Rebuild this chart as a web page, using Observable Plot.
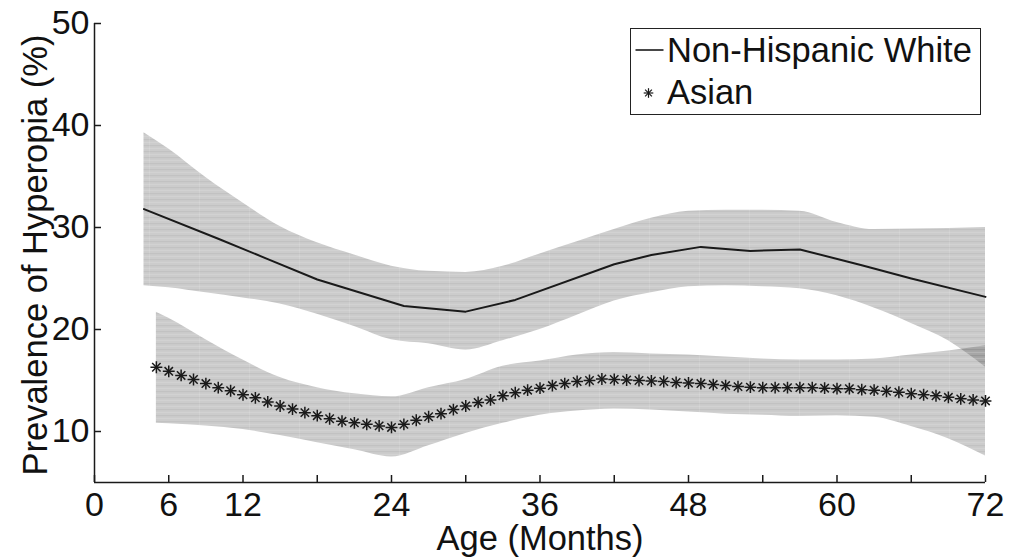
<!DOCTYPE html>
<html>
<head>
<meta charset="utf-8">
<script src="https://cdn.jsdelivr.net/npm/d3@7"></script>
<script src="https://cdn.jsdelivr.net/npm/@observablehq/plot@0.6"></script>
<style>
  body { margin: 0; background: #fff; font-family: "Liberation Sans", Arial, sans-serif; }
  #wrap { position: relative; width: 1010px; height: 560px; }
  #legend { position: absolute; left: 630px; top: 28px; width: 349px; height: 85px;
            border: 1.5px solid #222; background: #fff; }
  #legend .t { position: absolute; left: 36px; font-size: 34.5px; line-height: normal; color: #111; white-space: nowrap; }
  #legend svg { position: absolute; left: 0; top: 0; }
</style>
</head>
<body>
<div id="wrap"></div>
<script>
// ---- data ----
const seriesNames = ["Non-Hispanic White", "Asian"];
const xTickMonths = [0, 6, 12, 18, 24, 30, 36, 42, 48, 54, 60, 66, 72];
const xLabelMonths = [0, 6, 12, 24, 36, 48, 60, 72];
const yTicks = [10, 20, 30, 40, 50];

// Non-Hispanic White fitted prevalence (line)
const nhwMonths = [4, 10, 14, 18, 25, 30, 34, 42, 45, 49, 53, 57, 62, 66, 72];
const nhwPrev   = [31.8, 28.9, 26.9, 24.9, 22.3, 21.75, 22.9, 26.4, 27.3, 28.1, 27.7, 27.85, 26.3, 25.0, 23.2];

// Non-Hispanic White confidence band
const nhwBandMonths = [4, 6, 9, 12, 15, 18, 21, 24, 27, 30, 33, 36, 39, 42, 45, 48, 51, 54, 57, 60, 63, 66, 69, 72];
const nhwUpper = [39.3, 37.7, 34.9, 32.4, 30.1, 28.5, 27.3, 26.2, 25.7, 25.6, 26.2, 27.4, 28.6, 29.8, 30.9, 31.6, 31.7, 31.7, 31.6, 30.5, 29.8, 29.85, 29.9, 30.0];
const nhwLower = [24.3, 24.1, 23.6, 23.1, 22.5, 21.5, 20.3, 19.0, 18.6, 18.0, 18.9, 20.0, 21.4, 22.8, 23.6, 24.2, 24.3, 24.2, 24.0, 23.3, 22.1, 20.6, 18.9, 16.3];

// Asian fitted prevalence (asterisks, monthly)
const asianMonths = [5, 6, 7, 8, 9, 10, 11, 12, 13, 14, 15, 16, 17, 18, 19, 20, 21, 22, 23, 24,
  25, 26, 27, 28, 29, 30, 31, 32, 33, 34, 35, 36, 37, 38, 39, 40, 41, 42, 43, 44, 45, 46, 47, 48,
  49, 50, 51, 52, 53, 54, 55, 56, 57, 58, 59, 60, 61, 62, 63, 64, 65, 66, 67, 68, 69, 70, 71, 72];
const asianPrev = [16.3, 15.9, 15.5, 15.1, 14.7, 14.3, 14.0, 13.6, 13.3, 12.9, 12.5, 12.2, 11.85, 11.55, 11.25, 11.0, 10.85, 10.7, 10.55, 10.4,
  10.7, 11.1, 11.45, 11.75, 12.15, 12.5, 12.85, 13.1, 13.5, 13.8, 14.05, 14.25, 14.5, 14.7, 14.9, 15.0, 15.15, 15.1, 15.05, 15.0, 14.95, 14.9, 14.8, 14.75,
  14.7, 14.6, 14.5, 14.4, 14.35, 14.3, 14.3, 14.3, 14.3, 14.3, 14.25, 14.2, 14.2, 14.1, 14.05, 13.95, 13.85, 13.7, 13.6, 13.5, 13.35, 13.2, 13.1, 13.0];

// Asian confidence band
const asianBandMonths = [5, 6, 9, 12, 15, 18, 21, 24, 27, 30, 33, 36, 39, 42, 45, 48, 51, 54, 57, 60, 63, 66, 69, 72];
const asianUpper = [21.7, 21.1, 19.0, 17.0, 15.3, 14.3, 13.7, 13.4, 14.3, 15.1, 16.4, 16.9, 17.5, 17.75, 17.6, 17.5, 17.3, 17.1, 17.0, 17.0, 17.1, 17.5, 17.9, 18.4];
const asianLower = [10.8, 10.75, 10.55, 10.2, 9.6, 8.9, 8.2, 7.5, 8.6, 9.8, 10.8, 11.6, 12.0, 12.2, 12.1, 11.9, 11.7, 11.6, 11.5, 11.55, 11.4, 10.5, 9.3, 7.6];

// ---- tables ----
const nhwLine = nhwMonths.map((m, i) => ({month: m, prev: nhwPrev[i]}));
const nhwBand = nhwBandMonths.map((m, i) => ({month: m, lo: nhwLower[i], hi: nhwUpper[i]}));
const asianPts = asianMonths.map((m, i) => ({month: m, prev: asianPrev[i]}));
const asianBand = asianBandMonths.map((m, i) => ({month: m, lo: asianLower[i], hi: asianUpper[i]}));

const W = 1010, H = 560;
const mL = 94, mR = 25, mT = 23, mB = 78;
const frameW = W - mL - mR, frameH = H - mT - mB;
const ink = "#1a1a1a";
const fs = 34;

const chart = Plot.plot({
  width: W, height: H,
  marginLeft: mL, marginRight: mR, marginTop: mT, marginBottom: mB,
  style: {fontFamily: '"Liberation Sans", Arial, sans-serif', background: "#fff", overflow: "visible"},
  x: {domain: [0, 72], axis: null},
  y: {domain: [5, 50], axis: null},
  marks: [
    Plot.areaY(nhwBand, {x: "month", y1: "lo", y2: "hi", curve: "monotone-x", fill: "url(#bandStripes)"}),
    Plot.areaY(asianBand, {x: "month", y1: "lo", y2: "hi", curve: "monotone-x", fill: "url(#bandStripes)"}),
    Plot.line(nhwLine, {x: "month", y: "prev", stroke: ink, strokeWidth: 2}),
    Plot.dot(asianPts, {x: "month", y: "prev", symbol: "plus", r: 3.9, stroke: ink, strokeWidth: 1.5}),
    Plot.dot(asianPts, {x: "month", y: "prev", symbol: "times", r: 3.9, stroke: ink, strokeWidth: 1.5}),
    // axes lines
    Plot.ruleX([0], {x: d => d, stroke: ink, strokeWidth: 1.5}),
    Plot.ruleY([5], {y: d => d, stroke: ink, strokeWidth: 1.5}),
    // inward ticks
    Plot.ruleX(xTickMonths, {x: d => d, insetTop: frameH - 7, stroke: ink, strokeWidth: 1.5}),
    Plot.ruleY(yTicks, {y: d => d, insetRight: frameW - 7, stroke: ink, strokeWidth: 1.5}),
    // tick labels
    Plot.text(xLabelMonths, {x: d => d, text: d => String(d), frameAnchor: "bottom", lineAnchor: "middle", dy: 23, fontSize: fs, fill: "#111"}),
    Plot.text(yTicks, {y: d => d, text: d => String(d), frameAnchor: "left", textAnchor: "end", lineAnchor: "middle", dx: -5, fontSize: fs, fill: "#111"}),
    // axis titles
    Plot.text(["Age (Months)"], {text: d => d, frameAnchor: "bottom", textAnchor: "middle", lineAnchor: "middle", dy: 56, fontSize: 34.5, fill: "#111"}),
    Plot.text(["Prevalence of Hyperopia (%)"], {text: d => d, frameAnchor: "left", textAnchor: "middle", rotate: -90, lineAnchor: "middle", dx: -59, dy: 2, fontSize: 34.5, fill: "#111"})
  ]
});

// striped band texture (semi-transparent so overlaps darken)
const defs = document.createElementNS("http://www.w3.org/2000/svg", "defs");
defs.innerHTML = `
  <pattern id="bandStripes" patternUnits="userSpaceOnUse" x="0" y="0" width="50" height="6">
    <rect x="0" y="0" width="50" height="6" fill="#333" fill-opacity="0.25"></rect>
    <rect x="0" y="1" width="50" height="1.2" fill="#333" fill-opacity="0.07"></rect>
    <rect x="0" y="4" width="50" height="1" fill="#fff" fill-opacity="0.12"></rect>
    <rect x="49" y="0" width="1" height="6" fill="#fff" fill-opacity="0.10"></rect>
  </pattern>`;
chart.insertBefore(defs, chart.firstChild);

const wrap = document.getElementById("wrap");
wrap.appendChild(chart);

// legend
const legend = document.createElement("div");
legend.id = "legend";
legend.innerHTML = `
  <svg width="349" height="85">
    <line x1="4.5" x2="32.5" y1="21" y2="21" stroke="${ink}" stroke-width="1.6"></line>
    <g transform="translate(17.5,64)" stroke="${ink}" stroke-width="1.2">
      <line x1="-4.8" x2="4.8" y1="0" y2="0"></line>
      <line x1="0" x2="0" y1="-4.8" y2="4.8"></line>
      <line x1="-3.4" x2="3.4" y1="-3.4" y2="3.4"></line>
      <line x1="-3.4" x2="3.4" y1="3.4" y2="-3.4"></line>
    </g>
  </svg>
  <span class="t" style="top:2px">${seriesNames[0]}</span>
  <span class="t" style="top:44px">${seriesNames[1]}</span>`;
wrap.appendChild(legend);
</script>
</body>
</html>
